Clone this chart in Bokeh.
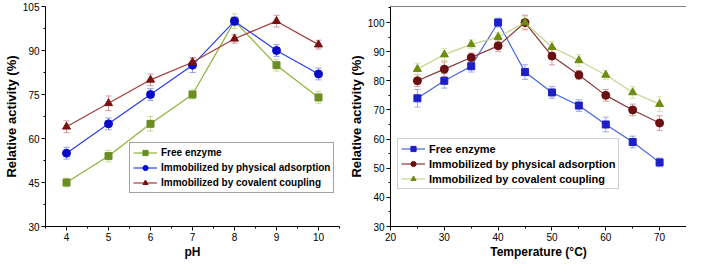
from bokeh.plotting import figure
from bokeh.layouts import row
from bokeh.models import ColumnDataSource, Whisker, TeeHead, FixedTicker, Range1d, Span
from bokeh.embed import file_html
from bokeh.resources import INLINE

# ---- Left panel: pH ----
ph = [4, 5, 6, 7, 8, 9, 10]
ph_free = [45, 54, 65, 75, 100, 85, 74]
ph_free_err = [1.5, 2, 2.5, 1.5, 2.5, 2, 2]
ph_phys = [55, 65, 75, 85, 100, 90, 82]
ph_phys_err = [2, 2, 2, 2.5, 1.5, 2, 2]
ph_cov = [64, 72, 80, 86, 94, 100, 92]
ph_cov_err = [2, 2.5, 2, 1.5, 1.5, 2, 1.5]
ph_yticks = [30, 45, 60, 75, 90, 105]

# ---- Right panel: temperature ----
temp = [25, 30, 35, 40, 45, 50, 55, 60, 65, 70]
t_free = [74, 80, 85, 100, 83, 76, 71.5, 65, 59, 52]
t_free_err = [3, 2.5, 2, 1.5, 2.5, 2, 2, 2.5, 2, 1.5]
t_phys = [80, 84, 88, 92, 100, 88.5, 82, 75, 70, 65.5]
t_phys_err = [2, 2.5, 1.5, 2, 2.5, 3, 1.5, 2, 2, 2.5]
t_cov = [84, 89, 92.5, 95, 100, 91.5, 87, 82, 76, 72]
t_cov_err = [2, 2, 1.5, 1.5, 2, 2, 2, 1.5, 2, 2.5]
t_xticks = [20, 30, 40, 50, 60, 70]
t_yticks = [30, 40, 50, 60, 70, 80, 90, 100]

labels = ["Free enzyme", "Immobilized by physical adsorption", "Immobilized by covalent coupling"]

FONT = "Liberation Sans"


def style_axes(p, xlabel, ylabel):
    for ax in (p.xaxis[0], p.yaxis[0]):
        ax.axis_line_color = "black"
        ax.major_tick_line_color = "black"
        ax.minor_tick_line_color = "black"
        ax.major_tick_in = 0
        ax.major_tick_out = 4
        ax.minor_tick_in = 0
        ax.minor_tick_out = 2
        ax.major_label_text_font = FONT
        ax.major_label_text_font_size = "10px"
        ax.major_label_text_color = "black"
        ax.axis_label_text_font = FONT
        ax.axis_label_text_font_style = "bold"
        ax.axis_label_text_color = "black"
        ax.major_label_standoff = 2
        ax.axis_label_standoff = 1
    p.xaxis.axis_label = xlabel
    p.yaxis.axis_label = ylabel
    p.xaxis.axis_label_text_font_size = "12px"
    p.yaxis.axis_label_text_font_size = "13px"
    p.xgrid.grid_line_color = None
    p.ygrid.grid_line_color = None


def add_series(p, x, y, err, line_color, marker_color, err_color, marker, size, label):
    src = ColumnDataSource(dict(x=x, y=y,
                                upper=[a + b for a, b in zip(y, err)],
                                lower=[a - b for a, b in zip(y, err)]))
    w = Whisker(base="x", upper="upper", lower="lower", source=src,
                line_color=err_color, line_width=1,
                upper_head=TeeHead(size=6, line_color=err_color, line_width=1),
                lower_head=TeeHead(size=6, line_color=err_color, line_width=1))
    p.add_layout(w)
    p.line("x", "y", source=src, line_color=line_color, line_width=1.2, legend_label=label)
    p.scatter("x", "y", source=src, marker=marker, size=size, fill_color=marker_color,
              line_color=marker_color, legend_label=label)


def style_legend(p, loc, font_size, border_color):
    lg = p.legend[0]
    lg.location = loc
    lg.label_text_font = FONT
    lg.label_text_font_style = "bold"
    lg.label_text_font_size = font_size
    lg.label_text_color = "black"
    lg.glyph_width = 24
    lg.glyph_height = 13
    lg.label_height = 13
    lg.spacing = 2
    lg.padding = 3
    lg.margin = 0
    lg.label_standoff = 4
    lg.border_line_color = border_color
    lg.border_line_width = 1
    lg.background_fill_alpha = 1.0


# Left figure
p1 = figure(width=345, height=261, output_backend="svg", toolbar_location=None,
            x_range=Range1d(3.5, 10.5), y_range=Range1d(30, 105),
            min_border_left=0, min_border_right=6, min_border_top=6, min_border_bottom=0)
p1.outline_line_color = None
style_axes(p1, "pH", "Relative activity (%)")
p1.xaxis.ticker = FixedTicker(ticks=ph, minor_ticks=[x + 0.5 for x in [3] + ph])
p1.yaxis.ticker = FixedTicker(ticks=ph_yticks, minor_ticks=[t + 7.5 for t in ph_yticks[:-1]])

add_series(p1, ph, ph_free, ph_free_err, "#8db33a", "#6b8e23", "#c9da96", "square", 7, labels[0])
add_series(p1, ph, ph_phys, ph_phys_err, "#2a3cf0", "#0a0ac8", "#8f9cf0", "circle", 8, labels[1])
add_series(p1, ph, ph_cov, ph_cov_err, "#a43c3c", "#7a1010", "#d49a9a", "triangle", 8, labels[2])
style_legend(p1, (84, 33), "10px", "#444444")

# Right figure
p2 = figure(width=341, height=261, output_backend="svg", toolbar_location=None,
            x_range=Range1d(20, 75), y_range=Range1d(30, 105.5),
            min_border_left=0, min_border_right=0, min_border_top=2, min_border_bottom=0)
p2.outline_line_color = None
style_axes(p2, "Temperature (°C)", "Relative activity (%)")
p2.xaxis.ticker = FixedTicker(ticks=t_xticks, minor_ticks=[t + 5 for t in t_xticks])
p2.yaxis.ticker = FixedTicker(ticks=t_yticks, minor_ticks=[t + 5 for t in t_yticks])
p2.add_layout(Span(location=105.5, dimension="width", line_color="black", line_width=1))

add_series(p2, temp, t_free, t_free_err, "#4466dd", "#1f1fc8", "#9aa8ec", "square", 7, labels[0])
add_series(p2, temp, t_phys, t_phys_err, "#8a3535", "#6a1010", "#d49a9a", "circle", 8, labels[1])
add_series(p2, temp, t_cov, t_cov_err, "#c5d68a", "#6e8c10", "#d8e4a8", "triangle", 8, labels[2])
style_legend(p2, (7, 37), "11px", "#9aa0b0")

layout = row(p1, p2)
open("out.html", "w").write(file_html(layout, INLINE))
